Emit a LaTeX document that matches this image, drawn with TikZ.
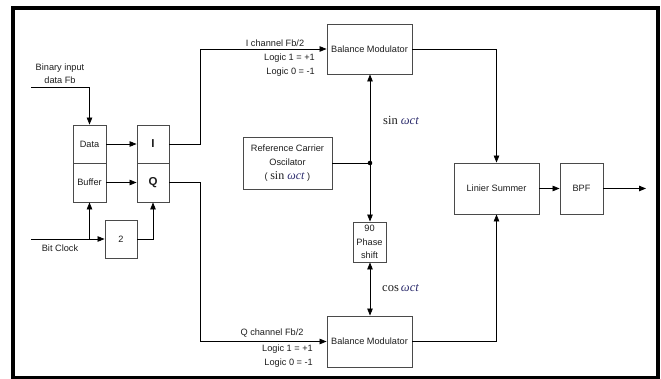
\documentclass[tikz,border=0pt]{standalone}
\usepackage{fontspec}
\setmainfont{Liberation Sans}
\newfontfamily\serifm{Liberation Serif}
\usetikzlibrary{arrows.meta}
\definecolor{boxline}{HTML}{4A4A4A}
\definecolor{txt}{HTML}{1E1E1E}
\definecolor{omg}{HTML}{2E2E6E}
\tikzset{
  blk/.style={draw=boxline, line width=0.9pt, rectangle, inner sep=0pt, align=center,
     font=\fontsize{9.2}{14}\selectfont, text=txt},
  lbl/.style={inner sep=0pt, align=center, font=\fontsize{9.2}{13.5}\selectfont, text=txt},
  mlbl/.style={inner sep=0pt, font=\serifm\fontsize{12.5}{14}\selectfont, text=txt},
  wire/.style={draw=black, line width=0.8pt},
  arr/.style={wire, -{Triangle[length=7pt,width=5.5pt]}},
  darr/.style={wire, {Triangle[length=7pt,width=5.5pt]}-{Triangle[length=7pt,width=5.5pt]}},
}
\newcommand{\wct}{\textcolor{omg}{\textit{ωct}}}
\begin{document}
\begin{tikzpicture}[x=1pt,y=-1pt]
\useasboundingbox (0,0) rectangle (661,379);
\fill[white] (0,0) rectangle (661,379);
\begin{scope}
\clip (0,0) rectangle (661,379);
\draw[line width=4pt] (13,8) rectangle (657.5,378);
\end{scope}

% blocks
\node[blk, minimum width=33pt, minimum height=38pt] (data) at (89.5,144) {Data};
\node[blk, minimum width=33pt, minimum height=39pt] (buffer) at (89.5,182.5) {Buffer};
\node[blk, minimum width=32pt, minimum height=38pt, font=\bfseries\fontsize{11.5}{12}\selectfont] (I) at (153,144) {I};
\node[blk, minimum width=32pt, minimum height=39pt, font=\bfseries\fontsize{11.5}{12}\selectfont] (Q) at (153,182.5) {Q};
\node[blk, minimum width=32pt, minimum height=38pt] (two) at (121,239) {2};
\node[blk, minimum width=85pt, minimum height=50pt] (bmt) at (369.5,49) {Balance Modulator};
\node[blk, minimum width=85pt, minimum height=51pt] (bmb) at (369.5,341.5) {Balance Modulator};
\node[blk, minimum width=89pt, minimum height=52pt] (osc) at (287.5,163) {Reference Carrier\\Oscilator\\( {\serifm\fontsize{12}{13}\selectfont sin \wct} )};
\node[blk, minimum width=33pt, minimum height=40pt, font=\fontsize{9.2}{13.5}\selectfont] (phase) at (369.5,242) {90\\Phase\\shift};
\node[blk, minimum width=85pt, minimum height=51pt] (sum) at (496.5,188.5) {Linier Summer};
\node[blk, minimum width=43pt, minimum height=51pt] (bpf) at (581.5,188.5) {BPF};

% free ends
\coordinate (bin) at (31,87);
\coordinate (clk) at (31,239);
\coordinate (dot) at (370,163);
\coordinate (out) at (646,188.5);

% connectors
\draw[arr] (bin) -| (data.north);
\draw[arr] (clk) -- (two.west);
\draw[arr] (buffer.south |- two.west) -- (buffer.south);
\draw[arr] (two.east) -| (Q.south);
\draw[arr] (data.east) -- (I.west);
\draw[arr] (buffer.east) -- (Q.west);
\draw[arr] (I.east) -- ++(31,0) |- (bmt.west);
\draw[arr] (Q.east) -- ++(31,0) |- (bmb.west);
\draw[wire] (osc.east) -- (dot);
\fill (dot) circle (2.3pt);
\draw[arr] (dot) -- (bmt.south -| dot);
\draw[arr] (dot) -- (phase.north -| dot);
\draw[darr] (phase.south -| dot) -- (bmb.north -| dot);
\draw[arr] (bmt.east) -| (sum.north);
\draw[arr] (bmb.east) -| (sum.south);
\draw[arr] (sum.east) -- (bpf.west);
\draw[arr] (bpf.east) -- (out);

% labels
\node[lbl] (binlbl) at (60,73.5) {Binary input\\data Fb};
\node[lbl] (clklbl) at (60,248) {Bit Clock};
\node[lbl] (ich) at (275,43) {I channel Fb/2};
\node[lbl, anchor=east] (il1) at (315,58) {Logic 1 = +1};
\node[lbl, anchor=east] (il0) at (315,72) {Logic 0 = -1};
\node[lbl] (qch) at (272,333) {Q channel Fb/2};
\node[lbl, anchor=east] (ql1) at (313,349) {Logic 1 = +1};
\node[lbl, anchor=east] (ql0) at (313,363) {Logic 0 = -1};
\node[mlbl, anchor=west] (sinl) at (383,120) {sin \wct};
\node[mlbl, anchor=west] (cosl) at (382,288) {cos\,\wct};
\end{tikzpicture}
\end{document}
